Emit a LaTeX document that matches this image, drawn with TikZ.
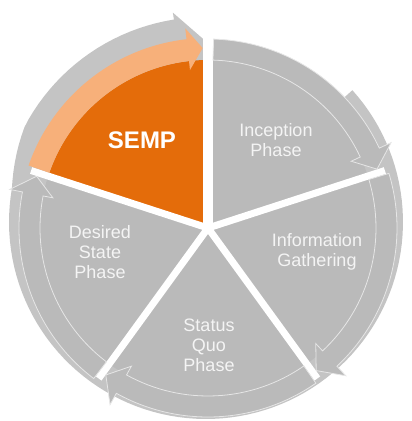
\documentclass[tikz,border=0pt]{standalone}
\usepackage{fontspec}
\setmainfont{Liberation Sans}
\usepackage{xcolor}
\definecolor{ringgray}{HTML}{C4C4C4}
\definecolor{piegray}{HTML}{BABABA}
\definecolor{rimline}{HTML}{E6E6E6}
\definecolor{sempfill}{HTML}{E46C0A}
\definecolor{semparrow}{HTML}{F7B07A}
\definecolor{labeltext}{HTML}{F4F4F4}

\begin{document}
\begin{tikzpicture}[x=1pt,y=1pt,
    phase label/.style={text=labeltext,align=center,font=\fontsize{18}{20}\selectfont},
    gap line/.style={white,line width=7pt},
    rim arrow/.style={fill=piegray,draw=rimline,line width=0.8pt}]
    \useasboundingbox (-208,-193) rectangle (204,228);
    % outer ring with the gray arrow behind SEMP
    \begin{scope}[shift={(-2,6)}]
      \fill[ringgray] (0,0) -- (42:185)
        -- plot[domain=42:-261,samples=120] (\x:{197+8*max(0,min(1,(-190-\x)/18))})
        -- (-261:212) -- (-269.5:182) -- cycle;
    \end{scope}
    % pies
    \fill[piegray] (0,0) circle (168);
    \fill[sempfill] (0,0) -- (162:168) arc[start angle=162,end angle=90,radius=168] -- cycle;
    % gaps
    \draw[gap line,line width=10pt] (0,0) -- (90:190);
    \draw[gap line] (0,0) -- (18:186);
    \draw[gap line] (0,0) -- (-54:186);
    \draw[gap line] (0,0) -- (-126:186);
    \draw[gap line] (0,0) -- (162:186);
    % arrows on the rim
    \fill[semparrow] (160.8:168) arc[start angle=160.8,end angle=96.5,radius=168]
      -- (96.5:159) -- (91.7:180) -- (96.5:201)
      -- (96.5:190) arc[start angle=96.5,end angle=160.8,radius=190] -- cycle;
    \filldraw[rim arrow] (88.3:168) arc[start angle=88.3,end angle=25,radius=168]
      -- (25:158) -- (19.2:179) -- (25:202)
      -- (25:189) arc[start angle=25,end angle=88.3,radius=189] -- cycle;
    \filldraw[rim arrow] (16.8:168) arc[start angle=16.8,end angle=-47,radius=168]
      -- (-47:158) -- (-52.8:179) -- (-47:202)
      -- (-47:189) arc[start angle=-47,end angle=16.8,radius=189] -- cycle;
    \filldraw[rim arrow] (-55.2:168) arc[start angle=-55.2,end angle=-119,radius=168]
      -- (-119:158) -- (-124.8:179) -- (-119:202)
      -- (-119:189) arc[start angle=-119,end angle=-55.2,radius=189] -- cycle;
    \filldraw[rim arrow] (-127.2:168) arc[start angle=-127.2,end angle=-191,radius=168]
      -- (-191:158) -- (-196.8:179) -- (-191:202)
      -- (-191:189) arc[start angle=-191,end angle=-127.2,radius=189] -- cycle;
    % labels
    \node[text=white,font=\fontsize{24}{28}\selectfont\bfseries] (semp) at (-66,88) {SEMP};
    \node[phase label] (inception) at (68,88) {Inception\\Phase};
    \node[phase label] (gathering) at (109,-24) {Information\\Gathering};
    \node[phase label] (statusquo) at (1,-117) {Status\\Quo\\Phase};
    \node[phase label] (desired) at (-108,-24) {Desired\\State\\Phase};
\end{tikzpicture}
\end{document}
